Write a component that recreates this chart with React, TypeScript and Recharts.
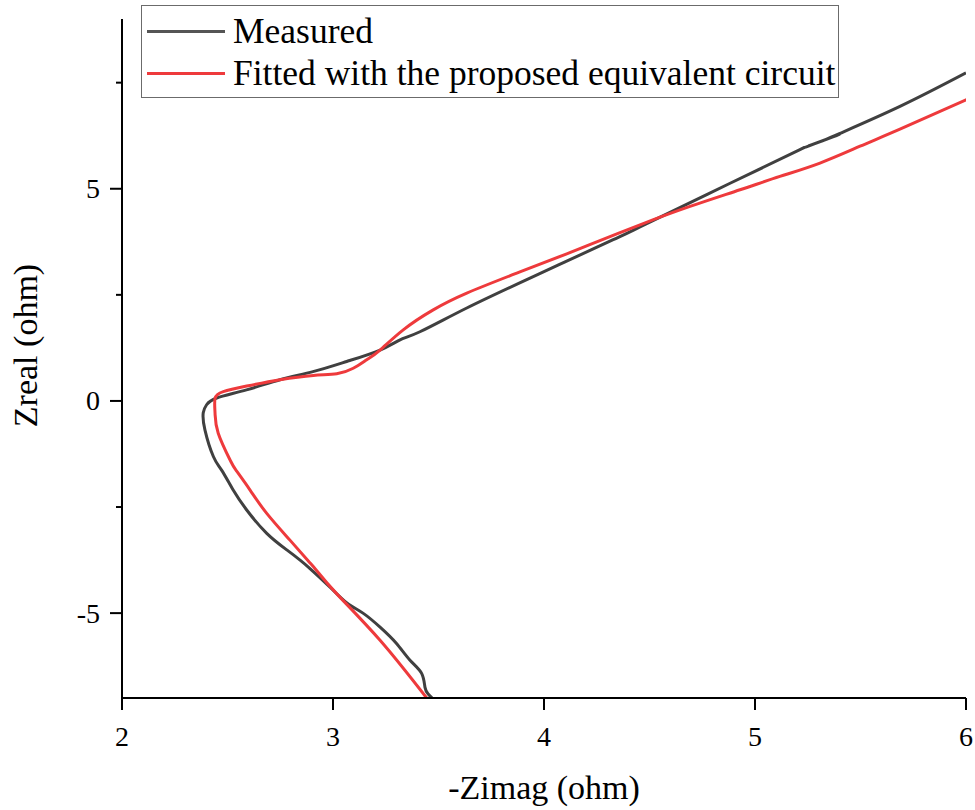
import React from 'react';
import { LineChart, Line, XAxis, YAxis, Legend } from 'recharts';

// -Zimag (x) and Zreal (y), bottom to top
const measuredX = [
  3.47, 3.45, 3.436, 3.42, 3.365, 3.30, 3.223, 3.142, 3.066, 2.986, 2.891, 2.844,
  2.781, 2.686, 2.591, 2.527, 2.472, 2.433, 2.393, 2.385, 2.401, 2.449, 2.59, 2.749,
  2.905, 3.065, 3.223, 3.318, 3.412, 3.634, 3.949, 4.328, 4.455, 4.882, 5.213, 5.25,
  5.40, 5.26, 5.32, 5.40, 5.687, 6.0,
];
const measuredY = [
  -7.0, -6.9, -6.75, -6.42, -6.11, -5.71, -5.33, -5.0, -4.76, -4.39, -3.95, -3.75,
  -3.51, -3.12, -2.57, -2.10, -1.63, -1.31, -0.68, -0.28, -0.09, 0.07, 0.26, 0.5,
  0.69, 0.93, 1.2, 1.44, 1.63, 2.19, 2.93, 3.8, 4.1, 5.13, 5.92, 6.0,
  6.28, 6.02, 6.13, 6.30, 6.94, 7.73,
];

const fittedX = [
  3.444, 3.223, 3.017, 2.923, 2.883, 2.796, 2.686, 2.607, 2.54, 2.512, 2.456, 2.441,
  2.441, 2.48, 2.591, 2.749, 2.907, 3.018, 3.096, 3.16, 3.223, 3.333, 3.475, 3.634,
  3.871, 4.108, 4.25, 4.455, 4.692, 4.929, 5.118, 5.308, 5.498, 5.687, 6.003,
];
const fittedY = [
  -7.0, -5.64, -4.54, -4.0, -3.77, -3.28, -2.65, -2.10, -1.63, -1.39, -0.76, -0.29,
  0.06, 0.22, 0.35, 0.5, 0.6, 0.64, 0.77, 0.97, 1.2, 1.675, 2.146, 2.54,
  3.012, 3.467, 3.75, 4.151, 4.583, 4.976, 5.29, 5.606, 6.002, 6.403, 7.099,
];

const xTicks = [2, 3, 4, 5, 6];
const yTicks = [-5, -2.5, 0, 2.5, 5, 7.5];

const measured = measuredX.map((x, i) => ({ x, y: measuredY[i] }));
const fitted = fittedX.map((x, i) => ({ x, y: fittedY[i] }));

const GRAY = '#404040';
const RED = '#ee3a3c';
const FONT = '"Liberation Serif", "Times New Roman", serif';

const YTick = (props: any) => {
  const { x, y, payload } = props;
  const major = Number.isInteger(payload.value);
  const axisX = x + 22; // tickSize + tickMargin
  return (
    <g>
      <line x1={axisX - (major ? 12 : 6)} x2={axisX} y1={y} y2={y} stroke="#000" strokeWidth={2} />
      {major && (
        <text x={x} y={y} textAnchor="end" dominantBaseline="central" fontSize={28} fontFamily={FONT} fill="#000">
          {payload.value}
        </text>
      )}
    </g>
  );
};

const XTick = (props: any) => {
  const { x, y, payload } = props;
  return (
    <text x={x} y={y} dy="0.71em" textAnchor="middle" fontSize={28} fontFamily={FONT} fill="#000">
      {payload.value}
    </text>
  );
};

const YTitle = (props: any) => {
  const vb = props.viewBox;
  const cx = vb.x + 37;
  const cy = vb.y + vb.height / 2 - 13;
  return (
    <text x={cx} y={cy} transform={`rotate(-90, ${cx}, ${cy})`} textAnchor="middle" fontSize={34} fontFamily={FONT} fill="#000">
      Zreal (ohm)
    </text>
  );
};

const LegendBox = () => (
  <div
    style={{
      boxSizing: 'border-box',
      width: 698,
      height: 93,
      border: '1px solid #6b6b6b',
      background: '#fff',
      paddingTop: 4,
      fontFamily: FONT,
      fontSize: 35.5,
      color: '#000',
    }}
  >
    {[
      { name: 'Measured', color: '#555' },
      { name: 'Fitted with the proposed equivalent circuit', color: RED },
    ].map((item) => (
      <div key={item.name} style={{ display: 'flex', alignItems: 'center', height: 42, lineHeight: '42px', whiteSpace: 'nowrap' }}>
        <div style={{ marginLeft: 5, width: 78, height: 3, background: item.color }} />
        <span style={{ marginLeft: 8 }}>{item.name}</span>
      </div>
    ))}
  </div>
);

export default function App() {
  return (
    <div style={{ position: 'absolute', left: 0, top: 0, fontFamily: FONT }}>
      <LineChart width={975} height={810} margin={{ top: 19, right: 9, left: 0, bottom: 0 }}>
        <XAxis
          type="number"
          dataKey="x"
          domain={[2, 6]}
          ticks={xTicks}
          allowDataOverflow
          height={112}
          tickSize={12}
          tickMargin={16}
          axisLine={{ stroke: '#000', strokeWidth: 2 }}
          tickLine={{ stroke: '#000', strokeWidth: 2 }}
          tick={<XTick />}
          label={{ value: '-Zimag (ohm)', position: 'insideBottom', offset: 11, fontSize: 34, fill: '#000', fontFamily: FONT }}
        />
        <YAxis
          type="number"
          dataKey="y"
          domain={[-7, 9]}
          ticks={yTicks}
          allowDataOverflow
          width={122}
          tickSize={12}
          tickMargin={10}
          axisLine={{ stroke: '#000', strokeWidth: 2 }}
          tickLine={false}
          tick={<YTick />}
          label={{ content: (p: any) => <YTitle {...p} /> }}
        />
        <Legend
          layout="vertical"
          align="center"
          verticalAlign="middle"
          wrapperStyle={{ top: 5, left: 141, width: 698, height: 93 }}
          content={() => <LegendBox />}
        />
        <Line
          data={measured}
          dataKey="y"
          type="natural"
          stroke={GRAY}
          strokeWidth={3}
          strokeLinejoin="round"
          dot={false}
          isAnimationActive={false}
        />
        <Line
          data={fitted}
          dataKey="y"
          type="natural"
          stroke={RED}
          strokeWidth={3}
          strokeLinejoin="round"
          dot={false}
          isAnimationActive={false}
        />
      </LineChart>
    </div>
  );
}
